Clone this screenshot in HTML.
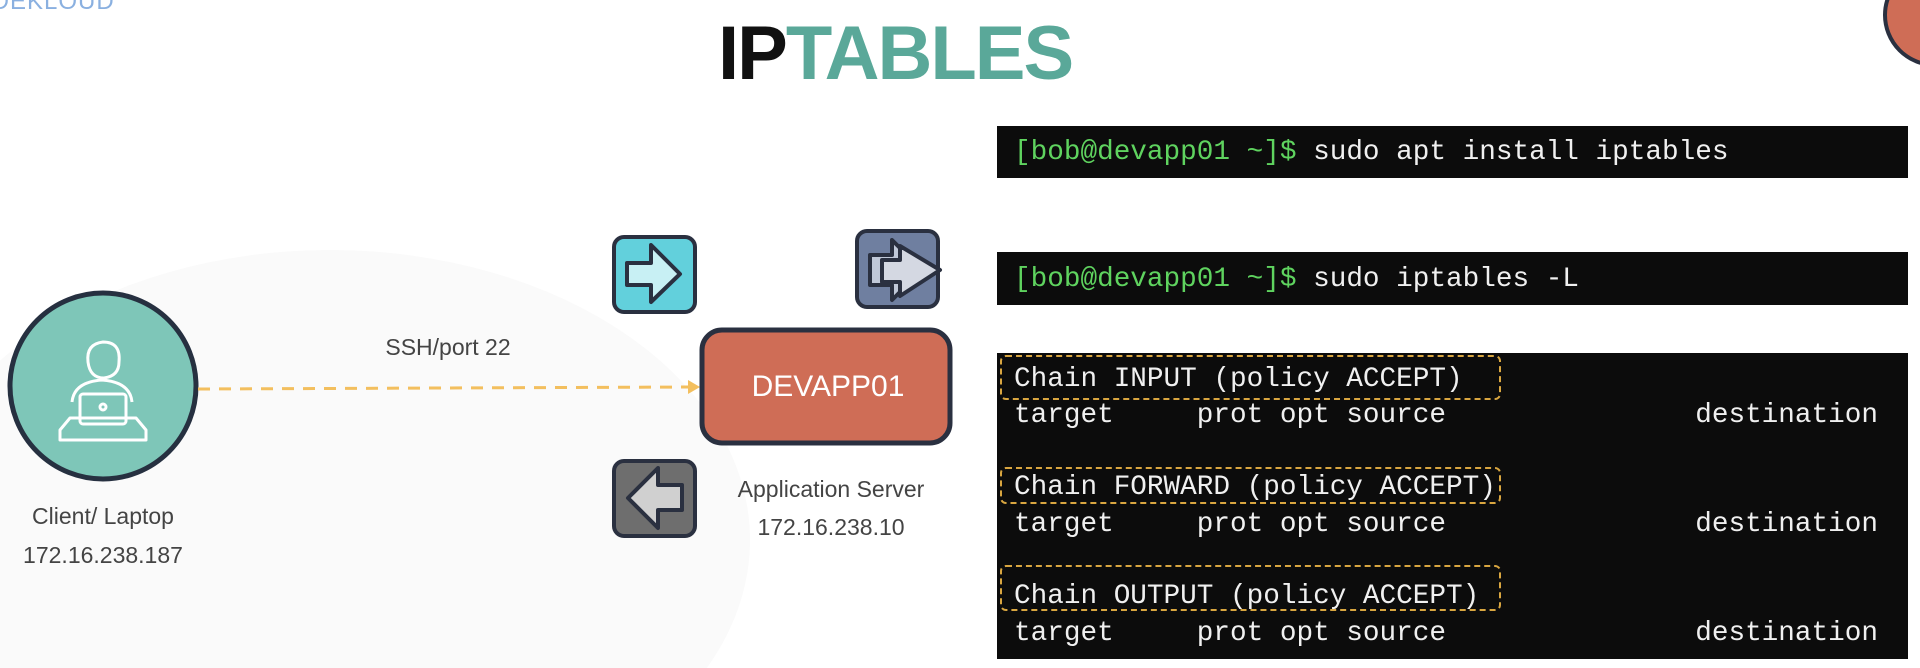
<!DOCTYPE html>
<html><head><meta charset="utf-8"><style>
html,body{margin:0;padding:0;}
body{width:1920px;height:668px;position:relative;overflow:hidden;background:#fff;font-family:"Liberation Sans",sans-serif;}
.abs{position:absolute;}
.term{position:absolute;left:997px;width:911px;background:#0c0c0c;font-family:"Liberation Mono",monospace;font-size:27.7px;color:#f0f0f0;white-space:pre;overflow:hidden;}
.g{color:#5fd35f;}
.dbox{position:absolute;left:1000px;width:501px;border:2px dashed #d9a640;border-radius:6px;box-sizing:border-box;}
.lbl{position:absolute;color:#444;font-size:23px;text-align:center;transform:translateX(-50%);white-space:nowrap;}
</style></head><body>
<svg class="abs" style="left:0;top:0" width="1920" height="668">
  <ellipse cx="330" cy="540" rx="420" ry="290" fill="#fafafa"/>
  <circle cx="1935" cy="15" r="50" fill="#cf6d56" stroke="#2a3040" stroke-width="4"/>
  <circle cx="103" cy="386" r="93" fill="#7ec6b8" stroke="#263040" stroke-width="5"/>
  <g fill="none" stroke="#fff" stroke-width="3" stroke-linejoin="round">
    <path d="M88 362 q-2 -18 15 -20 q18 0 16 20 q0 14 -15 16 q-14 0 -16 -16z"/>
    <path d="M72 402 q2 -20 30 -22 q28 2 30 22"/>
    <rect x="80" y="394" width="46" height="30" rx="3"/>
    <circle cx="103" cy="407" r="3"/>
    <path d="M60 430 l10 -12 h66 l10 12 v10 h-86z"/>
  </g>
  <line x1="198" y1="389" x2="690" y2="387" stroke="#f3bf5e" stroke-width="3" stroke-dasharray="12 9"/>
  <polygon points="688,380 700,387 688,394" fill="#f3bf5e"/>
  <rect x="702" y="330" width="248" height="113" rx="20" fill="#cf6d56" stroke="#2a3040" stroke-width="5"/>
  <rect x="614" y="237" width="81" height="75" rx="10" fill="#62d0dc" stroke="#2a3040" stroke-width="4"/>
  <polygon points="627,263 651,263 651,245 680,274 651,302 651,285 627,285" fill="#c8f0f4" stroke="#2a3040" stroke-width="4" stroke-linejoin="round"/>
  <rect x="857" y="231" width="81" height="76" rx="10" fill="#6f7fa0" stroke="#2a3040" stroke-width="4"/>
  <polygon points="870,255 892,255 892,240 922,270 892,300 892,285 870,285" fill="#c0c8d8" stroke="#2a3040" stroke-width="4" stroke-linejoin="round"/>
  <polygon points="882,260 900,260 900,246 940,270 900,296 900,282 882,282" fill="#d4d8e2" stroke="#2a3040" stroke-width="4" stroke-linejoin="round"/>
  <rect x="614" y="461" width="81" height="75" rx="10" fill="#6e6e6e" stroke="#2a3040" stroke-width="4"/>
  <polygon points="682,485 658,485 658,468 628,498 658,528 658,510 682,510" fill="#d0d0d0" stroke="#2a3040" stroke-width="4" stroke-linejoin="round"/>
</svg>
<div class="abs" style="left:-45px;top:-12px;font-size:24px;color:#8ab0e0;letter-spacing:1px;">KODEKLOUD</div>
<div class="abs" style="left:718px;top:10px;font-size:76px;font-weight:bold;letter-spacing:-2px;"><span style="color:#111">IP</span><span style="color:#5aa899">TABLES</span></div>
<div class="abs" style="left:702px;top:370px;width:252px;text-align:center;color:#fff;font-size:30px;">DEVAPP01</div>
<div class="lbl" style="left:448px;top:334px;">SSH/port 22</div>
<div class="lbl" style="left:103px;top:503px;">Client/ Laptop</div>
<div class="lbl" style="left:103px;top:542px;">172.16.238.187</div>
<div class="lbl" style="left:831px;top:476px;">Application Server</div>
<div class="lbl" style="left:831px;top:514px;">172.16.238.10</div>

<div class="term" style="top:126px;height:52px;"><div style="position:absolute;left:17px;top:11px;"><span class="g">[bob@devapp01 ~]$</span> sudo apt install iptables</div></div>
<div class="term" style="top:252px;height:53px;"><div style="position:absolute;left:17px;top:12px;"><span class="g">[bob@devapp01 ~]$</span> sudo iptables -L</div></div>
<div class="term" style="top:353px;height:306px;">
  <div style="position:absolute;left:17px;top:11px;">Chain INPUT (policy ACCEPT)</div>
  <div style="position:absolute;left:17px;top:47px;">target     prot opt source               destination</div>
  <div style="position:absolute;left:17px;top:119px;">Chain FORWARD (policy ACCEPT)</div>
  <div style="position:absolute;left:17px;top:156px;">target     prot opt source               destination</div>
  <div style="position:absolute;left:17px;top:228px;">Chain OUTPUT (policy ACCEPT)</div>
  <div style="position:absolute;left:17px;top:265px;">target     prot opt source               destination</div>
</div>
<div class="dbox" style="top:355px;height:45px;"></div>
<div class="dbox" style="top:467px;height:37px;"></div>
<div class="dbox" style="top:565px;height:46px;"></div>
</body></html>
